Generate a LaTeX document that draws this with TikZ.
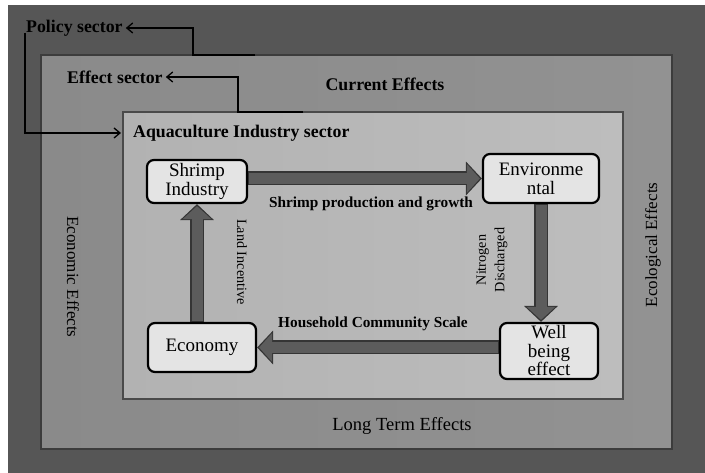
\documentclass[tikz,border=0pt]{standalone}
\usepackage{fontspec}
\setmainfont{Liberation Serif}
\usetikzlibrary{arrows.meta,calc}
\definecolor{outerg}{HTML}{565656}
\definecolor{midl}{HTML}{8A8A8A}
\definecolor{midr}{HTML}{929292}
\definecolor{midedge}{HTML}{3C3C3C}
\definecolor{innl}{HTML}{B2B2B2}
\definecolor{innr}{HTML}{BDBDBD}
\definecolor{inneredge}{HTML}{4A4A4A}
\definecolor{boxg}{HTML}{E4E4E4}
\definecolor{arrd}{HTML}{353535}
\definecolor{arrf}{HTML}{5C5C5C}
\pgfdeclarelayer{back}
\pgfsetlayers{back,main}
\begin{document}
\begin{tikzpicture}[x=1pt,y=-1pt,
  conn/.style={line width=1.3pt, draw=black, -{Straight Barb[length=6pt,width=10pt]}},
  title/.style={font=\bfseries\fontsize{17.8}{20}\selectfont, inner sep=3pt},
  lbl/.style={font=\bfseries\fontsize{15.3}{18}\selectfont, inner sep=1pt},
  vlbl/.style={font=\fontsize{14.2}{18.5}\selectfont, inner sep=1pt, align=center},
  side/.style={font=\fontsize{17}{20}\selectfont, inner sep=1pt},
  box/.style={draw=black, line width=2.2pt, fill=boxg, rounded corners=7pt,
    align=center, inner sep=0pt, font=\fontsize{19}{19}\selectfont},
  blkout/.style={line width=14pt, draw=arrd, -{Triangle[length=16pt,width=33pt]}},
  blkin/.style={line width=11pt, draw=arrf, shorten >=2pt, shorten <=1pt, -{Triangle[length=13pt,width=28pt]}}
]
\useasboundingbox (0,0) rectangle (705,473);
\begin{pgfonlayer}{back}
\fill[white] (0,0) rectangle (705,473);
\fill[outerg] (8,5) rectangle (705,473);
\draw[draw=midedge, line width=2pt, left color=midl, right color=midr] (41,55) rectangle (672,449);
\draw[draw=inneredge, line width=2pt, left color=innl, right color=innr] (123,112) rectangle (623,399);
\end{pgfonlayer}

% sector titles
\node[title, anchor=west] (policy) at (23,28) {Policy sector};
\node[title, anchor=west] (effect) at (64,77) {Effect sector};
\node[title] (current) at (385,84) {Current Effects};
\node[title, anchor=west, inner xsep=12pt] (aqua) at (121,133) {Aquaculture Industry sector};
\node[font=\fontsize{18.5}{20}\selectfont, inner sep=1pt] (longterm) at (402,426) {Long Term Effects};
\node[side, rotate=-90] (econeff) at (73,277) {Economic Effects};
\node[side, rotate=90] (ecoleff) at (653,245) {Ecological Effects};

% boxes
\node[box, minimum width=100pt, minimum height=43pt] (shrimp) at (197,181.5) {Shrimp\\Industry};
\node[box, minimum width=116pt, minimum height=49pt] (env) at (541,178.5) {Environme\\ntal};
\node[box, minimum width=98pt, minimum height=56pt, font=\fontsize{19}{18.5}\selectfont] (well) at (549,351) {Well\\being\\effect};
\node[box, minimum width=108pt, minimum height=49pt] (econ) at (202,347.5) {Economy};

% arrow labels
\node[lbl] (prod) at (371,204) {Shrimp production and growth};
\node[lbl] (house) at (373,324) {Household Community Scale};
\node[vlbl, rotate=-90] (land) at (242,262) {Land Incentive};
\node[vlbl, rotate=90] (nitro) at (492,260) {Nitrogen\\Discharged};

% connectors between sectors
\coordinate (pleft) at (25,33);
\coordinate (pstart) at (255,55);
\coordinate (estart) at (303,112);
\draw[line width=2pt] (pstart) -- ++(-62,0);
\draw[line width=2pt] (estart) -- ++(-65,0);
\draw[conn] (pstart) -- ++(-62,0) |- (policy.east);
\draw[conn] (estart) -- ++(-65,0) |- (effect.east);
\draw[conn] (pleft) |- (aqua.west);

% block arrows
\begin{pgfonlayer}{back}
\draw[blkout] (shrimp.east |- env.west) -- (env.west);
\draw[blkin] (shrimp.east |- env.west) -- (env.west);
\draw[blkout] (env.south) -- (env.south |- well.north);
\draw[blkin] (env.south) -- (env.south |- well.north);
\draw[blkout] (well.west |- econ.east) -- (econ.east);
\draw[blkin] (well.west |- econ.east) -- (econ.east);
\draw[blkout] (shrimp.south |- econ.north) -- (shrimp.south);
\draw[blkin] (shrimp.south |- econ.north) -- (shrimp.south);
\end{pgfonlayer}
\end{tikzpicture}
\end{document}
